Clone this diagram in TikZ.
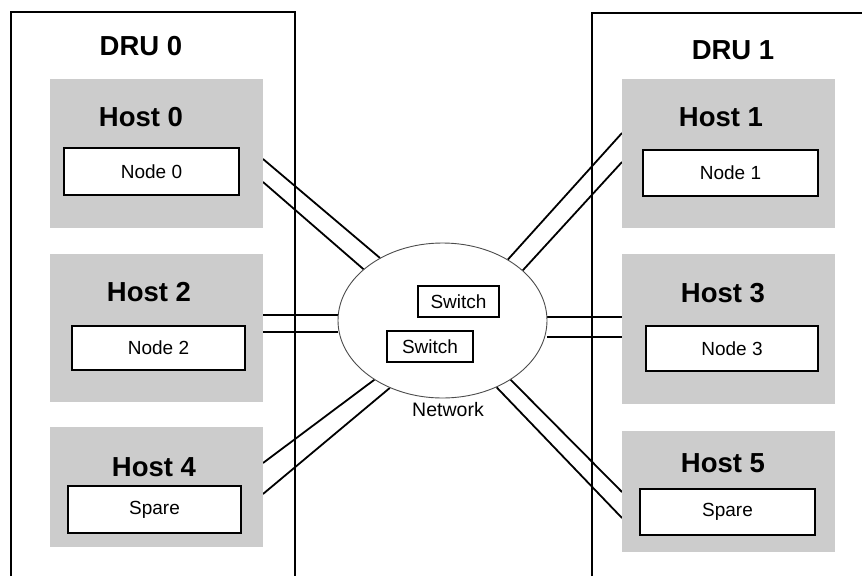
\documentclass[tikz,border=0pt]{standalone}
\usepackage{fontspec}
\setmainfont{Liberation Sans}
\usetikzlibrary{shapes.geometric,backgrounds}
\definecolor{hostgray}{HTML}{CCCCCC}
\tikzset{
  frame/.style={draw=black, line width=1.6pt},
  hostbox/.style={fill=hostgray, draw=none, inner sep=0pt},
  nodebox/.style={draw=black, fill=white, line width=1.4pt, inner sep=0pt, font=\fontsize{19}{22}\selectfont},
  bigtxt/.style={font=\fontsize{27.5}{32}\selectfont\bfseries, inner sep=0pt},
  smalltxt/.style={font=\fontsize{19.5}{22}\selectfont, inner sep=0pt},
  link/.style={draw=black, line width=1.8pt},
  netell/.style={ellipse, draw=black!70, line width=0.9pt, fill=white, inner sep=0pt}
}
\begin{document}
\begin{tikzpicture}[x=1pt,y=-1pt]
\useasboundingbox (0,0) rectangle (862,576);
% DRU frames
\draw[frame] (11,576) -- (11,12) -- (295,12) -- (295,576);
\draw[frame] (592,576) -- (592,13) -- (862,13);
\node[bigtxt] (dru0) at (141,46) {DRU 0};
\node[bigtxt] (dru1) at (733,50) {DRU 1};
% hosts
\node[hostbox, minimum width=213pt, minimum height=149pt] (h0) at (156.5,153.5) {};
\node[hostbox, minimum width=213pt, minimum height=148pt] (h2) at (156.5,328) {};
\node[hostbox, minimum width=213pt, minimum height=120pt] (h4) at (156.5,487) {};
\node[hostbox, minimum width=213pt, minimum height=149pt] (h1) at (728.5,153.5) {};
\node[hostbox, minimum width=213pt, minimum height=150pt] (h3) at (728.5,329) {};
\node[hostbox, minimum width=213pt, minimum height=121pt] (h5) at (728.5,491.5) {};
\node[bigtxt] (t0) at (141,117) {Host 0};
\node[bigtxt] (t2) at (149,292) {Host 2};
\node[bigtxt] (t4) at (154,467) {Host 4};
\node[bigtxt] (t1) at (721,117) {Host 1};
\node[bigtxt] (t3) at (723,293) {Host 3};
\node[bigtxt] (t5) at (723,463) {Host 5};
% node boxes
\node[nodebox, minimum width=175pt, minimum height=47pt] (n0) at (151.5,171.5) {Node 0};
\node[nodebox, minimum width=173pt, minimum height=44pt] (n2) at (158.5,348) {Node 2};
\node[nodebox, minimum width=173pt, minimum height=47pt] (n4) at (154.5,509.5) {Spare};
\node[nodebox, minimum width=175pt, minimum height=46pt] (n1) at (730.5,173) {Node 1};
\node[nodebox, minimum width=172pt, minimum height=45pt] (n3) at (732,348.5) {Node 3};
\node[nodebox, minimum width=175pt, minimum height=46pt] (n5) at (727.5,512) {Spare};
% network
\node[netell, minimum width=209pt, minimum height=155pt] (net) at (442.5,320.5) {};
\node[nodebox, minimum width=81pt, minimum height=31pt] (sw1) at (458.5,301.5) {Switch};
\node[nodebox, minimum width=86pt, minimum height=31pt] (sw2) at (430,346.5) {Switch};
\node[smalltxt] (netlbl) at (448,410) {Network};
% link end points on host borders
\coordinate (h0a) at (263,159);
\coordinate (h0b) at (263,182);
\coordinate (h2a) at (263,315);
\coordinate (h2b) at (263,332);
\coordinate (h4a) at (263,463);
\coordinate (h4b) at (263,494);
\coordinate (h1a) at (622,133);
\coordinate (h1b) at (622,162);
\coordinate (h3a) at (622,317);
\coordinate (h3b) at (622,337);
\coordinate (h5a) at (622,492);
\coordinate (h5b) at (622,518);
% links (behind the network ellipse, which hides any overshoot)
\begin{scope}[on background layer]
\draw[link] (h0a) -- (net.135.9);
\draw[link] (h0b) -- (net.147.2);
\draw[link] (h2a) -- (h2a -| net.west);
\draw[link] (h2b) -- (h2b -| net.west);
\draw[link] (h4a) -- (net.221);
\draw[link] (h4b) -- (net.232.2);
\draw[link] (h1a) -- (net.43.6);
\draw[link] (h1b) -- (net.32.7);
\draw[link] (h3a) -- (h3a -| net.east);
\draw[link] (h3b) -- (h3b -| net.east);
\draw[link] (h5a) -- (net.319.8);
\draw[link] (h5b) -- (net.309.9);
\end{scope}
\end{tikzpicture}
\end{document}
